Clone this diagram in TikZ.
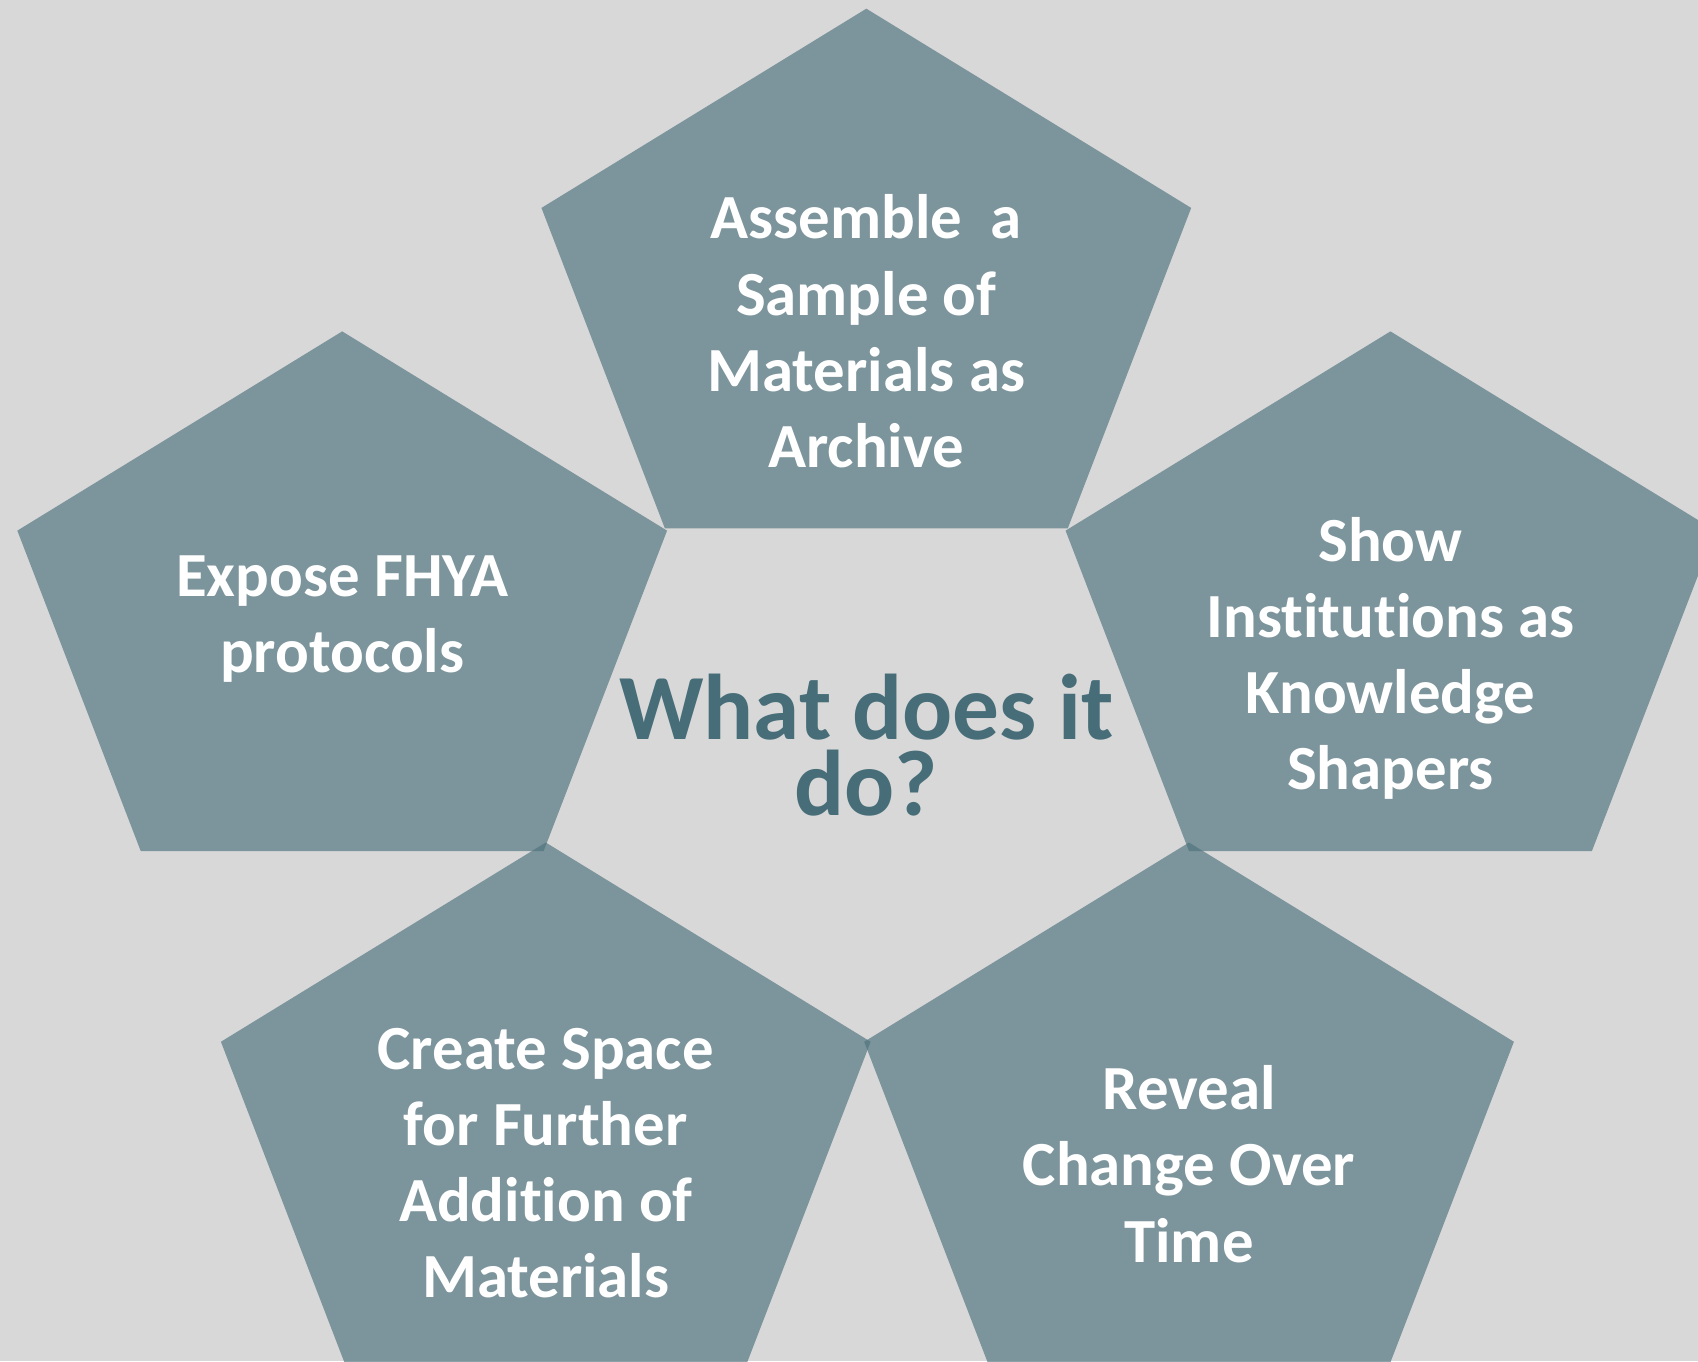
\documentclass[tikz,border=0pt]{standalone}
\usepackage{fontspec}
\setmainfont{Carlito}[Ligatures=NoCommon]
\usepackage{xcolor}
\usetikzlibrary{positioning}
\definecolor{Paper}{HTML}{D8D8D8}
\definecolor{Slate}{HTML}{50747E}
\definecolor{Teal}{HTML}{466D78}

\begin{document}
\begin{tikzpicture}[x=0.01cm,y=-0.01cm,
    petal/.style={fill=Slate,fill opacity=0.67},
    lbl/.style={text=white,align=center,inner sep=0pt,
      font=\fontsize{16.5}{20}\selectfont\bfseries},
    hub/.style={text=Teal,align=center,inner sep=0pt,
      font=\fontsize{24.5}{19.8}\selectfont\bfseries}]
  \fill[Paper] (0,0) rectangle (1568,1257);
  \useasboundingbox (0,0) rectangle (1568,1257);
  \clip (0,0) rectangle (1568,1257);
  % five pentagons, given by their top corner
  \foreach \ax/\ay in {800/8, 316/306, 1284/306, 504/778, 1098/778}
    \fill[petal] (\ax,\ay) -- ++(300,184) -- ++(-114,296) -- ++(-372,0)
      -- ++(-114,-296) -- cycle;
  \node[lbl] (assemble) at (800,306) {Assemble\ \ a\\Sample of\\Materials as\\Archive};
  \node[lbl] (expose) at (316,572) {Expose FHYA\\protocols};
  \node[lbl] (show) at (1284,608) {Show\\Institutions as\\Knowledge\\Shapers};
  \node[lbl] (create) at (504,1074) {Create Space\\for Further\\Addition of\\Materials};
  \node[lbl] (reveal) at (1098,1075) {Reveal\\Change Over\\Time};
  \node[hub] (what) at (800,688) {What does it\\do?};
\end{tikzpicture}
\end{document}
